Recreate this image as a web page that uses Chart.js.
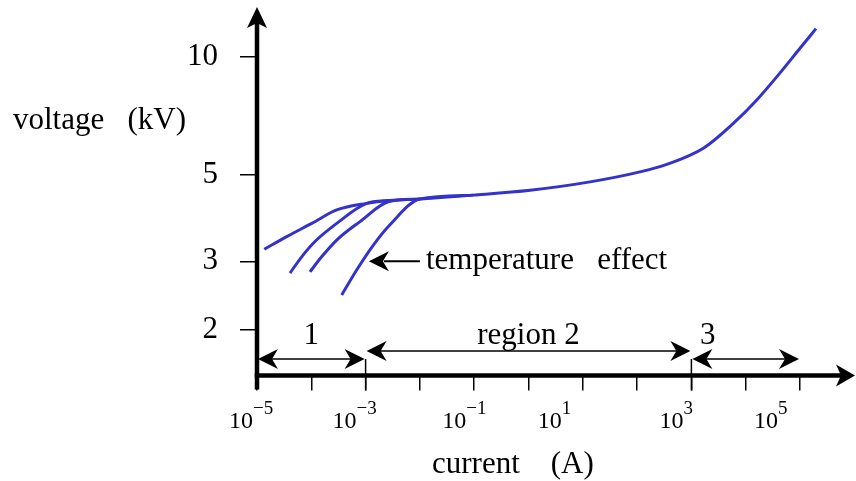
<!DOCTYPE html>
<html>
<head>
    <meta charset="UTF-8">
    <title>voltage vs current</title>
    <script src="https://cdn.jsdelivr.net/npm/chart.js"></script>
    <style>
        body { margin: 0; background: #fff; }
        canvas { display: block; }
    </style>
</head>
<body>
<canvas id="vi" width="856" height="481"></canvas>
<script>
    // main characteristic (current in A, voltage in kV)
    const mainCurrent = [1.36e-5, 3.52e-5, 1.02e-4, 2.94e-4, 1.05e-3, 2.81e-3, 1.0e-2, 9.6e-2, 1.07, 13.6, 113, 351, 1660, 5920, 1.6e4, 4.29e4, 1.0e5, 1.97e5];
    const mainVoltage = [3.22, 3.47, 3.75, 4.06, 4.22, 4.29, 4.33, 4.43, 4.56, 4.79, 5.08, 5.31, 5.84, 6.76, 7.76, 9.10, 10.52, 11.81];

    // the three lower branches (temperature effect)
    const branch1Current = [4.06e-5, 6.65e-5, 1.17e-4, 2.94e-4, 1.05e-3, 2.81e-3];
    const branch1Voltage = [2.80, 3.08, 3.37, 3.75, 4.22, 4.29];
    const branch2Current = [9.46e-5, 1.55e-4, 2.94e-4, 7.89e-4, 2.62e-3, 1.0e-2];
    const branch2Voltage = [2.82, 3.08, 3.40, 3.79, 4.26, 4.33];
    const branch3Current = [3.63e-4, 6.85e-4, 1.39e-3, 2.81e-3, 1.0e-2, 9.6e-2];
    const branch3Voltage = [2.46, 2.85, 3.30, 3.72, 4.33, 4.43];

    // axes
    const voltageTicks = [2, 3, 5, 10];
    const currentDecades = [-5, -4, -3, -2, -1, 0, 1, 2, 3, 4, 5];
    const labelledDecades = [-5, -3, -1, 1, 3, 5];
    const yTitle = 'voltage   (kV)';
    const xTitle = 'current    (A)';

    // regions along the current axis
    const regionLabels = ['1', 'region 2', '3'];
    const regionStart = [1e-5, 1e-3, 1e3];
    const regionEnd = [1e-3, 1e3, 1e5];
    const regionLabelAt = [1e-4, 1, 2e3];

    // temperature effect note
    const effectLabel = 'temperature   effect';
    const effectCurrent = 1.15e-3;
    const effectVoltage = 3;
    const effectTailCurrent = 1e-2;

    const serif = "'Liberation Serif', 'Times New Roman', serif";
    const blue = '#3333cc';
    Chart.defaults.font.family = serif;
    Chart.defaults.color = '#000';

    function pts(xs, ys) {
        return xs.map((x, i) => ({x: x, y: ys[i]}));
    }

    function curve(xs, ys) {
        return {
            data: pts(xs, ys),
            borderColor: blue,
            borderWidth: 3,
            pointRadius: 0,
            cubicInterpolationMode: 'monotone',
            borderCapStyle: 'butt',
            fill: false
        };
    }

    function head(ctx, x, y, ang, len, hw, notch) {
        const c = Math.cos(ang), s = Math.sin(ang);
        ctx.beginPath();
        ctx.moveTo(x, y);
        ctx.lineTo(x - len * c - hw * s, y - len * s + hw * c);
        ctx.lineTo(x - (len - notch) * c, y - (len - notch) * s);
        ctx.lineTo(x - len * c + hw * s, y - len * s - hw * c);
        ctx.closePath();
        ctx.fill();
    }

    function seg(ctx, x1, y1, x2, y2) {
        ctx.beginPath();
        ctx.moveTo(x1, y1);
        ctx.lineTo(x2, y2);
        ctx.stroke();
    }

    const annotate = {
        id: 'annotate',
        afterDraw(chart) {
            const ctx = chart.ctx, xs = chart.scales.x, ys = chart.scales.y, a = chart.chartArea;
            ctx.save();
            ctx.fillStyle = '#000';
            ctx.strokeStyle = '#000';

            // axes with arrow heads
            ctx.lineWidth = 4.5;
            seg(ctx, a.left, a.bottom + 14, a.left, a.top + 16);
            head(ctx, a.left, a.top, -Math.PI / 2, 21, 10, 5);
            seg(ctx, a.left - 2.25, a.bottom, a.right - 8, a.bottom);
            head(ctx, a.right + 5, a.bottom, 0, 19, 11, 5);

            // x tick labels with exponents
            const nudge = [-28, -33, -32, -45, -32, -46];
            ctx.textAlign = 'left';
            ctx.textBaseline = 'alphabetic';
            labelledDecades.forEach((e, i) => {
                const x0 = xs.getPixelForValue(Math.pow(10, e)) + nudge[i];
                ctx.font = '24px ' + serif;
                ctx.fillText('10', x0, a.bottom + 52.5);
                const w = ctx.measureText('10').width;
                ctx.font = '19px ' + serif;
                ctx.fillText(e < 0 ? '\u2212' + (-e) : String(e), x0 + w, a.bottom + 38.5);
            });

            // axis titles
            ctx.font = '31px ' + serif;
            ctx.fillText(yTitle, 13, 129);
            ctx.fillText(xTitle, 432, 473);

            // regions
            const lift = [16.5, 24.5, 16.5];
            ctx.lineWidth = 1.5;
            regionLabels.forEach((lab, i) => {
                const x1 = xs.getPixelForValue(regionStart[i]) + 1;
                const x2 = xs.getPixelForValue(regionEnd[i]) - 1;
                const y = a.bottom - lift[i];
                seg(ctx, x1 + 10, y, x2 - 10, y);
                head(ctx, x1, y, Math.PI, 20, 10, 6);
                head(ctx, x2, y, 0, 20, 10, 6);
                if (i > 0) {
                    const xb = xs.getPixelForValue(regionStart[i]);
                    seg(ctx, xb, a.bottom - 16.5, xb, a.bottom + 15);
                }
                ctx.textAlign = 'center';
                ctx.fillText(lab, xs.getPixelForValue(regionLabelAt[i]), a.bottom - 31.5);
            });

            // temperature effect arrow
            const tx = xs.getPixelForValue(effectCurrent);
            const ty = ys.getPixelForValue(effectVoltage);
            const tail = xs.getPixelForValue(effectTailCurrent);
            ctx.lineWidth = 2;
            seg(ctx, tx + 15, ty, tail, ty);
            head(ctx, tx, ty, Math.PI, 20, 10, 6);
            ctx.textAlign = 'left';
            ctx.fillText(effectLabel, tail + 6, ty + 8);

            ctx.restore();
        }
    };

    const config = {
        type: 'line',
        data: {
            datasets: [
                curve(mainCurrent, mainVoltage),
                curve(branch1Current, branch1Voltage),
                curve(branch2Current, branch2Voltage),
                curve(branch3Current, branch3Voltage)
            ]
        },
        options: {
            responsive: false,
            animation: false,
            devicePixelRatio: 1,
            layout: {padding: {left: 0, top: 7, right: 6, bottom: 0}},
            plugins: {legend: {display: false}, tooltip: {enabled: false}},
            scales: {
                x: {
                    type: 'logarithmic',
                    min: 1e-5,
                    max: Math.pow(10, 5.921),
                    bounds: 'data',
                    border: {display: false},
                    grid: {drawOnChartArea: false, drawTicks: true, tickLength: 15, color: '#000', lineWidth: 1.5},
                    ticks: {autoSkip: false, maxRotation: 0, callback: () => ''},
                    afterBuildTicks: (s) => { s.ticks = currentDecades.map(e => ({value: Math.pow(10, e)})); },
                    afterFit: (s) => { s.height = 481 - 375.5; s.paddingLeft = 0; s.paddingRight = 0; }
                },
                y: {
                    type: 'logarithmic',
                    min: 1.531,
                    max: 13.417,
                    bounds: 'data',
                    border: {display: false},
                    grid: {drawOnChartArea: false, drawTicks: true, tickLength: 17, color: '#000', lineWidth: 1.5},
                    ticks: {autoSkip: false, padding: 22, font: {size: 31}, color: '#000', callback: (v) => String(v)},
                    afterBuildTicks: (s) => { s.ticks = voltageTicks.map(v => ({value: v})); },
                    afterFit: (s) => { s.width = 257; s.paddingTop = 0; s.paddingBottom = 0; }
                }
            }
        },
        plugins: [annotate]
    };

    new Chart(document.getElementById('vi').getContext('2d'), config);
</script>
</body>
</html>
